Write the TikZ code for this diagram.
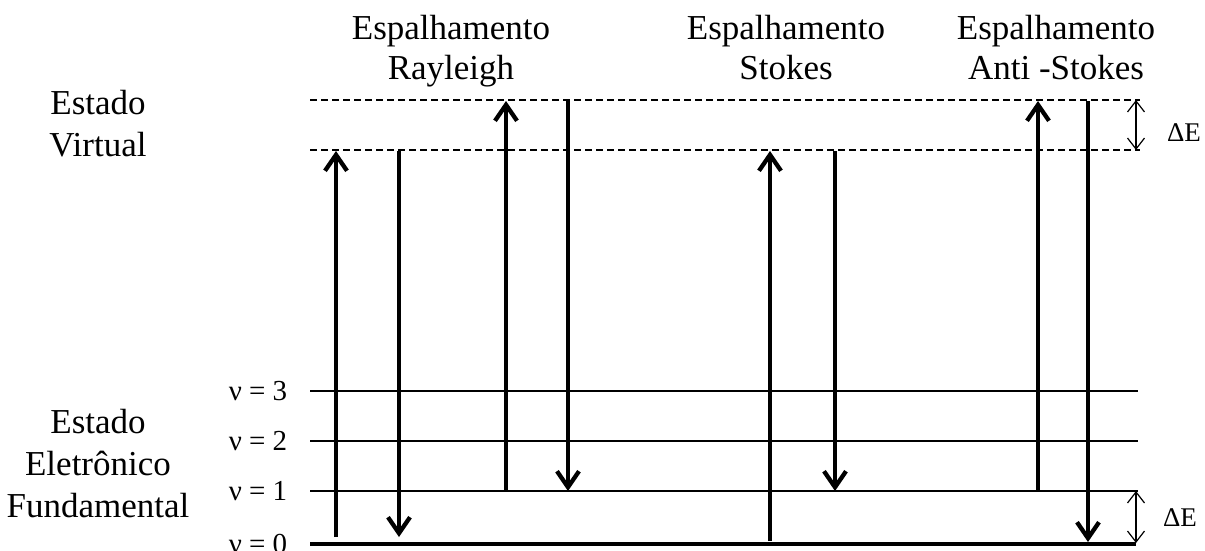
\documentclass[tikz,border=0pt]{standalone}
\usepackage{fontspec}
\setmainfont{Liberation Serif}
\usetikzlibrary{arrows.meta}
\begin{document}
\begin{tikzpicture}[x=1pt,y=-1pt,
  title/.style={align=center,anchor=base,font=\fontsize{35}{40}\selectfont,inner sep=0pt},
  side/.style={align=center,anchor=base,font=\fontsize{35}{42}\selectfont,inner sep=0pt},
  vlbl/.style={anchor=center,font=\fontsize{29}{33}\selectfont,inner sep=0pt},
  dlbl/.style={anchor=center,font=\fontsize{27}{30}\selectfont,inner sep=0pt},
  level/.style={line width=1.4pt},
  ground/.style={line width=4.5pt},
  virt/.style={line width=1.2pt,dash pattern=on 7pt off 4pt},
  trans/.style={line width=4.3pt,-{Straight Barb[length=16pt,width=22pt,line width=4.3pt]}},
  gap/.style={line width=1.2pt,{Straight Barb[length=11pt,width=17pt]}-{Straight Barb[length=11pt,width=17pt]}}
]
\useasboundingbox (0,0) rectangle (1205,550);

% energy levels
\draw[virt] (310,100) -- (1140,100);
\draw[virt] (310,150) -- (1140,150);
\draw[level] (310,391) -- (1138,391);
\draw[level] (310,441) -- (1138,441);
\draw[level] (310,491) -- (1138,491);
\draw[ground] (310,544) -- (1136,544);

% level labels
\node[vlbl] (v3) at (258,391) {ν = 3};
\node[vlbl] (v2) at (258,441) {ν = 2};
\node[vlbl] (v1) at (258,491) {ν = 1};
\node[vlbl] (v0) at (258,544) {ν = 0};

% state names (anchored on the baseline of the last line)
\node[side] (virtual) at (98,156) {Estado\\Virtual};
\node[side] (fund) at (98,517) {Estado\\Eletrônico\\Fundamental};

\node[title] (ray) at (451,79) {Espalhamento\\Rayleigh};
\node[title] (sto) at (786,79) {Espalhamento\\Stokes};
\node[title] (anti) at (1056,79) {Espalhamento\\Anti -Stokes};

% transition end points
\coordinate (r1a) at (336,537); \coordinate (r1b) at (336,151);
\coordinate (r2a) at (399,151); \coordinate (r2b) at (399,537);
\coordinate (r3a) at (506,491); \coordinate (r3b) at (506,101);
\coordinate (r4a) at (568,101); \coordinate (r4b) at (568,491);
\coordinate (s1a) at (770,541); \coordinate (s1b) at (770,151);
\coordinate (s2a) at (835,151); \coordinate (s2b) at (835,491);
\coordinate (a1a) at (1038,491); \coordinate (a1b) at (1038,101);
\coordinate (a2a) at (1088,101); \coordinate (a2b) at (1088,542);

\draw[trans] (r1a) -- (r1b);
\draw[trans] (r2a) -- (r2b);
\draw[trans] (r3a) -- (r3b);
\draw[trans] (r4a) -- (r4b);
\draw[trans] (s1a) -- (s1b);
\draw[trans] (s2a) -- (s2b);
\draw[trans] (a1a) -- (a1b);
\draw[trans] (a2a) -- (a2b);

% energy gaps
\coordinate (g1a) at (1136,100); \coordinate (g1b) at (1136,150);
\coordinate (g2a) at (1136,491); \coordinate (g2b) at (1136,543);
\draw[gap] (g1a) -- (g1b);
\draw[gap] (g2a) -- (g2b);
\node[dlbl] (de1) at (1184,133) {ΔE};
\node[dlbl] (de2) at (1180,518) {ΔE};
\end{tikzpicture}
\end{document}
